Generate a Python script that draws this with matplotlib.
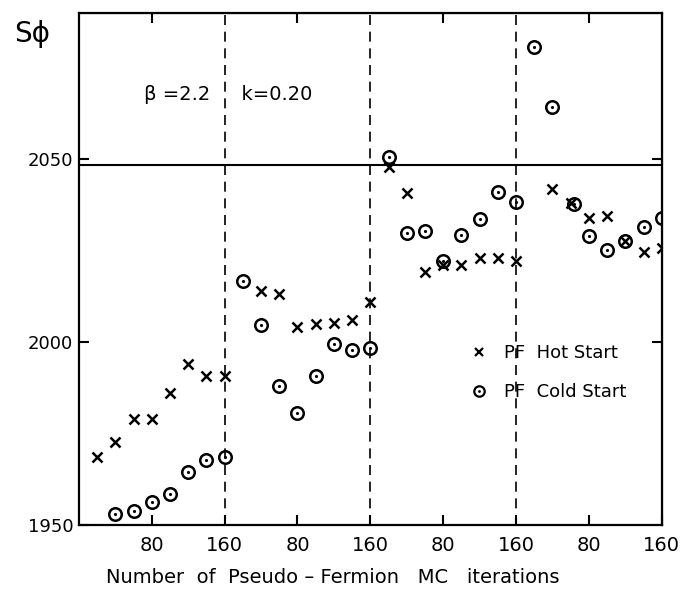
import numpy as np
import matplotlib
matplotlib.use("Agg")
import matplotlib.pyplot as plt
from matplotlib.legend_handler import HandlerTuple

# MC iterations within each 160-iteration block, S_phi values
seg_len = 160
hot_iters = [[20, 40, 60, 80, 100, 120, 140, 160],
             [40, 60, 80, 100, 120, 140, 160],
             [20, 40, 60, 80, 100, 120, 140, 160],
             [40, 60, 80, 100, 120, 140, 160]]
hot_vals = [[1968.6, 1972.8, 1978.9, 1978.9, 1986.0, 1993.9, 1990.7, 1990.7],
            [2014.0, 2013.1, 2004.2, 2004.9, 2005.1, 2006.0, 2011.1],
            [2047.8, 2040.7, 2019.1, 2021.2, 2021.2, 2023.0, 2023.0, 2022.3],
            [2041.8, 2037.9, 2034.0, 2034.5, 2027.7, 2024.7, 2025.8]]
cold_iters = [[40, 60, 80, 100, 120, 140, 160],
              [20, 40, 60, 80, 100, 120, 140, 160],
              [20, 40, 60, 80, 100, 120, 140, 160],
              [20, 40, 64, 80, 100, 120, 140, 160]]
cold_vals = [[1953.0, 1953.9, 1956.4, 1958.5, 1964.4, 1967.7, 1968.5],
             [2016.7, 2004.8, 1988.1, 1980.6, 1990.6, 1999.4, 1997.9, 1998.4],
             [2050.7, 2029.9, 2030.5, 2022.3, 2029.3, 2033.7, 2041.1, 2038.4],
             [2080.7, 2064.3, 2037.7, 2029.0, 2025.3, 2027.6, 2031.5, 2033.8]]
ref_level = 2048.4
tick_labels = ["80", "160"] * 4

plt.rcParams['font.family'] = ['DejaVu Sans']
fig = plt.figure(figsize=(6.89, 5.94), dpi=100)
ax = fig.add_axes([0.1145, 0.1162, 0.846, 0.862])

def offset(iters, k):
    return np.array(iters) + k*seg_len

for k in range(4):
    ax.plot(offset(hot_iters[k], k), hot_vals[k], 'x', color='k', ms=6.5, mew=1.8)
    ax.plot(offset(cold_iters[k], k), cold_vals[k], 'o', color='k', ms=9,
            mfc='none', mew=1.8)
    ax.plot(offset(cold_iters[k], k), cold_vals[k], '.', color='k', ms=2.5)

for k in range(1, 4):                        # block separators
    ax.axvline(k*seg_len, color='k', lw=1.2, ls=(0, (6, 4)))
ax.axhline(ref_level, color='k', lw=1.5)

ax.set_xlim(0, 4*seg_len)
ax.set_ylim(1950, 2090)
ax.set_xticks(np.arange(80, 4*seg_len + 1, 80))
ax.set_xticklabels(tick_labels)
ax.set_yticks([1950, 2000, 2050])
ax.tick_params(direction='in', length=7, width=1.5, labelsize=13, pad=4)
ax.tick_params(axis='x', labelsize=14, pad=8)
for s in ax.spines.values():
    s.set_linewidth(1.6)

# top and right inner ticks
axt = ax.secondary_xaxis('top')
axt.set_xticks(np.arange(80, 4*seg_len, 160))
axt.tick_params(direction='in', length=7, width=1.5, labeltop=False)
axr = ax.secondary_yaxis('right')
axr.set_yticks([2000, 2050])
axr.tick_params(direction='in', length=7, width=1.5, labelright=False)

ax.set_xlabel("Number  of  Pseudo – Fermion   MC   iterations", fontsize=14)
ax.xaxis.set_label_coords(0.436, -0.084)
fig.text(0.02, 0.943, "S\u03d5", fontsize=20, ha='left', va='center')
ax.text(0.112, 0.84, "\u03b2 =2.2     k=0.20", transform=ax.transAxes,
        fontsize=14, va='center')

h_hot, = ax.plot([], [], 'x', color='k', ms=5.5, mew=1.6)
h_ring, = ax.plot([], [], 'o', color='k', ms=7.5, mfc='none', mew=1.6)
h_dot, = ax.plot([], [], '.', color='k', ms=2)
ax.legend([h_hot, (h_ring, h_dot)], ["PF  Hot Start", "PF  Cold Start"],
          handler_map={tuple: HandlerTuple(ndivide=1, pad=0)},
          loc='upper left', bbox_to_anchor=(0.64, 0.385), frameon=False,
          fontsize=13, handlelength=1.2, handletextpad=0.8, labelspacing=1.15)

fig.savefig("out.png", dpi=100)
